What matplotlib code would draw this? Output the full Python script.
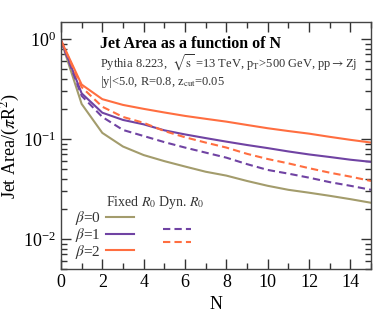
import numpy as np
import matplotlib
matplotlib.use("Agg")
import matplotlib.pyplot as plt
from matplotlib.lines import Line2D
from matplotlib.ticker import MultipleLocator, LogLocator, NullFormatter

plt.rcParams["font.family"] = "serif"
plt.rcParams["font.serif"] = ["Liberation Serif", "DejaVu Serif"]
plt.rcParams["mathtext.fontset"] = "stix"

N = list(range(16))

# fixed R0
fixed_b0 = [0.97, 0.224, 0.115, 0.084, 0.069, 0.060, 0.053, 0.047, 0.043, 0.038, 0.034, 0.031, 0.029, 0.027, 0.025, 0.023]
fixed_b1 = [0.97, 0.286, 0.183, 0.155, 0.140, 0.122, 0.111, 0.102, 0.094, 0.087, 0.081, 0.075, 0.070, 0.066, 0.062, 0.059]
fixed_b2 = [0.97, 0.350, 0.250, 0.219, 0.200, 0.184, 0.170, 0.159, 0.149, 0.138, 0.128, 0.120, 0.113, 0.105, 0.098, 0.092]
# dynamical R0
dyn_b1 = [0.97, 0.270, 0.166, 0.123, 0.107, 0.093, 0.082, 0.073, 0.065, 0.056, 0.049, 0.045, 0.041, 0.037, 0.034, 0.031]
dyn_b2 = [0.97, 0.330, 0.210, 0.166, 0.145, 0.120, 0.104, 0.092, 0.082, 0.071, 0.063, 0.057, 0.051, 0.046, 0.042, 0.038]

c0 = "#a39c6c"
c1 = "#7043a3"
c2 = "#ff6e40"
dash = (0, (3.5, 2))

fig = plt.figure(figsize=(3.74, 3.18), dpi=100)
ax = fig.add_axes([0.163, 0.154, 0.829, 0.777])

ax.plot(N, fixed_b0, color=c0, lw=1.5)
ax.plot(N, fixed_b1, color=c1, lw=1.5)
ax.plot(N, fixed_b2, color=c2, lw=1.5)
ax.plot(N, dyn_b1, color=c1, lw=1.5, ls=dash)
ax.plot(N, dyn_b2, color=c2, lw=1.5, ls=dash)

ax.set_yscale("log")
ax.set_xlim(0, 15)
ax.set_ylim(0.005, 1.48)
ax.xaxis.set_major_locator(MultipleLocator(2))
ax.xaxis.set_minor_locator(MultipleLocator(1))
ax.yaxis.set_major_locator(LogLocator(base=10))
ax.yaxis.set_minor_locator(LogLocator(base=10, subs=np.arange(2, 10)))
ax.yaxis.set_minor_formatter(NullFormatter())
ax.tick_params(which="both", direction="in", top=True, right=True, labelsize=13, color="#333333")
ax.tick_params(which="major", length=7, width=1)
ax.tick_params(which="minor", length=4, width=1)
for s in ax.spines.values():
    s.set_color("#444444")
    s.set_linewidth(1.0)

ax.set_xlabel("N", fontsize=13)
ax.set_ylabel(r"Jet Area/($\pi$R$^2$)", fontsize=13)
ax.yaxis.set_label_coords(-0.125, 0.5)

ax.text(0.125, 0.911, "Jet Area as a function of N", transform=ax.transAxes,
        fontsize=11.5, fontweight="bold", va="center")
ax.text(0.125, 0.834, r"Pythia 8.223,  $\sqrt{\rm s}$ =13 TeV, p$_{\rm T}$>500 GeV, pp$\rightarrow$Zj",
        transform=ax.transAxes, fontsize=9, va="center", color="#333333")
ax.text(0.125, 0.757, r"|y|<5.0, R=0.8, z$_{\rm cut}$=0.05",
        transform=ax.transAxes, fontsize=9, va="center", color="#333333")

ax.text(0.145, 0.268, r"Fixed $R_0$ Dyn. $R_0$", transform=ax.transAxes,
        fontsize=10, va="center", color="#333333")

handles = [Line2D([], [], color=c0, lw=1.5),
           Line2D([], [], color=c1, lw=1.5),
           Line2D([], [], color=c2, lw=1.5),
           Line2D([], [], color="none", lw=1.5),
           Line2D([], [], color=c1, lw=1.5, ls=dash),
           Line2D([], [], color=c2, lw=1.5, ls=dash)]
labels = [r"$\beta$=0", r"$\beta$=1", r"$\beta$=2", "", "", ""]
leg = ax.legend(handles, labels, ncol=2, markerfirst=False, frameon=False,
                loc="upper left", bbox_to_anchor=(0.045, 0.242), fontsize=11,
                handlelength=1.83, handletextpad=0.33, columnspacing=1.55,
                labelspacing=-0.08, borderaxespad=0, borderpad=0)
for t in leg.get_texts():
    t.set_color("#333333")

fig.savefig("out.png", dpi=100)
